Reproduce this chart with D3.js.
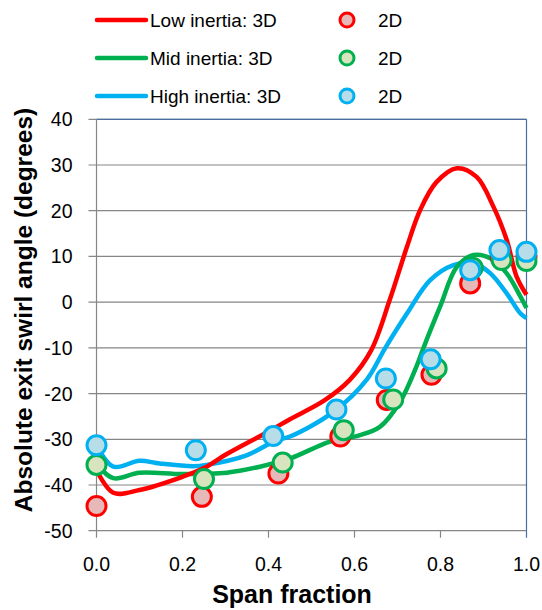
<!DOCTYPE html>
<html>
<head>
<meta charset="utf-8">
<script src="https://cdn.jsdelivr.net/npm/d3@7"></script>
<style>
  body { margin: 0; background: #fff; }
  text { font-family: "Liberation Sans", Arial, sans-serif; }
</style>
</head>
<body>
<svg id="chart"></svg>
<script>
// 3D curves (span fraction, swirl angle)
const lowSpan3D  = [0, 0.039, 0.1, 0.2, 0.25, 0.3, 0.4, 0.45, 0.53, 0.589, 0.639, 0.682, 0.722, 0.752, 0.79, 0.838, 0.884, 0.923, 0.954, 0.977, 1.0];
const low3D      = [-36.7, -41.7, -41.1, -38.2, -36.3, -33.4, -28.3, -25.6, -21.5, -17, -10.5, 0.5, 12.1, 20, 26.2, 29.3, 27.4, 20.9, 13.6, 5.6, 1.6];
const midSpan3D  = [0, 0.039, 0.1, 0.2, 0.303, 0.38, 0.45, 0.543, 0.605, 0.659, 0.706, 0.744, 0.76, 0.799, 0.838, 0.877, 0.916, 0.954, 0.986, 1.0];
const mid3D      = [-35.3, -38.5, -37.3, -37.6, -37.3, -36, -34.2, -30.5, -29.3, -27.3, -21.8, -14.1, -10.1, -1, 7.7, 10.3, 9.6, 6.3, 1.2, -1.3];
const highSpan3D = [0, 0.039, 0.1, 0.147, 0.225, 0.256, 0.349, 0.419, 0.45, 0.551, 0.628, 0.671, 0.722, 0.776, 0.83, 0.877, 0.916, 0.954, 0.986, 1.0];
const high3D     = [-31.3, -36, -34.7, -35.3, -35.9, -35.6, -33.5, -30.2, -29.4, -24, -17, -10.1, -2.5, 4.8, 8.1, 8.5, 6.3, 1.9, -2.5, -3.5];

// 2D points
const lowSpan2D  = [0, 0.245, 0.423, 0.567, 0.675, 0.779, 0.869, 0.94, 1.0];
const low2D      = [-44.6, -42.6, -37.5, -29.4, -21.4, -15.9, 4.1, 9.8, 10];
const midSpan2D  = [0, 0.25, 0.433, 0.575, 0.69, 0.791, 0.875, 0.942, 1.0];
const mid2D      = [-35.6, -38.7, -35.1, -28, -21.3, -14.5, 7.5, 9.2, 9];
const highSpan2D = [0, 0.231, 0.411, 0.558, 0.673, 0.777, 0.869, 0.937, 1.0];
const high2D     = [-31.3, -32.4, -29.3, -23.5, -16.7, -12.5, 7, 11.4, 11];

const xTicks = [0, 0.2, 0.4, 0.6, 0.8, 1.0];
const yTicks = [-50, -40, -30, -20, -10, 0, 10, 20, 30, 40];

const seriesNames = ["Low inertia: 3D", "Mid inertia: 3D", "High inertia: 3D"];
const lineColors = ["#ff0000", "#00b050", "#00b0f0"];
const fillColors = ["#e6b9b8", "#d7e4bd", "#b7dee8"];

const width = 542, height = 610;
const svg = d3.select("#chart").attr("width", width).attr("height", height);

const x = d3.scaleLinear().domain([0, 1]).range([96.5, 526.5]);
const y = d3.scaleLinear().domain([-50, 40]).range([530.7, 119.3]);

// gridlines
svg.append("g").selectAll("line")
  .data(yTicks)
  .enter().append("line")
  .attr("x1", x(0) - 8).attr("x2", x(1))
  .attr("y1", d => y(d)).attr("y2", d => y(d))
  .attr("stroke", "#868686").attr("stroke-width", 1.2);

// plot border top/right
svg.append("line").attr("x1", x(0)).attr("x2", x(1)).attr("y1", y(40)).attr("y2", y(40))
  .attr("stroke", "#4a6fa5").attr("stroke-width", 1.2);
svg.append("line").attr("x1", x(1)).attr("x2", x(1)).attr("y1", y(40)).attr("y2", y(-50) + 7)
  .attr("stroke", "#4a6fa5").attr("stroke-width", 1.2);

// left axis line
svg.append("line").attr("x1", x(0)).attr("x2", x(0)).attr("y1", y(40)).attr("y2", y(-50) + 7)
  .attr("stroke", "#868686").attr("stroke-width", 1.2);

// x ticks
svg.append("g").selectAll("line")
  .data(xTicks.slice(1, 5))
  .enter().append("line")
  .attr("x1", d => x(d)).attr("x2", d => x(d))
  .attr("y1", y(-50)).attr("y2", y(-50) + 7)
  .attr("stroke", "#868686").attr("stroke-width", 1.2);

// tick labels
svg.append("g").selectAll("text")
  .data(yTicks)
  .enter().append("text")
  .attr("x", 72.5).attr("y", d => y(d) + 7)
  .attr("text-anchor", "end")
  .attr("font-size", 19.5)
  .text(d => d);

svg.append("g").selectAll("text")
  .data(xTicks)
  .enter().append("text")
  .attr("x", d => x(d)).attr("y", 571)
  .attr("text-anchor", "middle")
  .attr("font-size", 19.5)
  .text(d => d.toFixed(1));

// axis titles
svg.append("text")
  .attr("x", 292).attr("y", 603)
  .attr("text-anchor", "middle")
  .attr("font-size", 25).attr("font-weight", "bold")
  .text("Span fraction");

svg.append("text")
  .attr("transform", "translate(32,310) rotate(-90)")
  .attr("text-anchor", "middle")
  .attr("font-size", 24.5).attr("font-weight", "bold")
  .text("Absolute exit swirl angle (degrees)");

// lines
const line = d3.line()
  .x(d => x(d[0])).y(d => y(d[1]))
  .curve(d3.curveCatmullRom.alpha(0.5));

const lines3D = [
  d3.zip(lowSpan3D, low3D),
  d3.zip(midSpan3D, mid3D),
  d3.zip(highSpan3D, high3D)
];
const points2D = [
  d3.zip(lowSpan2D, low2D),
  d3.zip(midSpan2D, mid2D),
  d3.zip(highSpan2D, high2D)
];

[2, 1, 0].forEach(i => {
  svg.append("path")
    .datum(lines3D[i])
    .attr("d", line)
    .attr("fill", "none")
    .attr("stroke", lineColors[i])
    .attr("stroke-width", 4.5)
    .attr("stroke-linejoin", "round");
});

[0, 1, 2].forEach(i => {
  svg.append("g").selectAll("circle")
    .data(points2D[i])
    .enter().append("circle")
    .attr("cx", d => x(d[0])).attr("cy", d => y(d[1]))
    .attr("r", 9.5)
    .attr("fill", fillColors[i])
    .attr("stroke", lineColors[i])
    .attr("stroke-width", 3);
});

// legend
const legend = svg.append("g");
seriesNames.forEach((name, i) => {
  const ly = 20 + i * 38;
  legend.append("line")
    .attr("x1", 97).attr("x2", 146).attr("y1", ly).attr("y2", ly)
    .attr("stroke", lineColors[i]).attr("stroke-width", 4.5).attr("stroke-linecap", "round");
  legend.append("text")
    .attr("x", 150).attr("y", ly + 7)
    .attr("font-size", 19)
    .text(name);
  legend.append("circle")
    .attr("cx", 347).attr("cy", ly).attr("r", 7)
    .attr("fill", fillColors[i]).attr("stroke", lineColors[i]).attr("stroke-width", 3);
  legend.append("text")
    .attr("x", 378).attr("y", ly + 7)
    .attr("font-size", 19)
    .text("2D");
});
</script>
</body>
</html>
